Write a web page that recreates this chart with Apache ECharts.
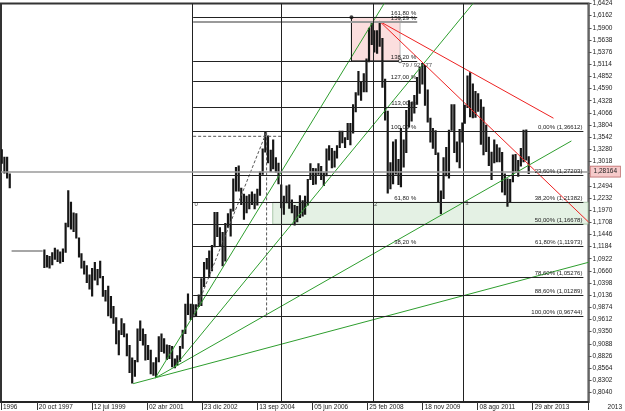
<!DOCTYPE html>
<html><head><meta charset="utf-8">
<script src="https://cdn.jsdelivr.net/npm/echarts@6/dist/echarts.min.js"></script>
<style>html,body{margin:0;padding:0;background:#fff}#c{width:625px;height:411px}</style>
</head><body><div id="c"></div>
<script>
// ---- price data (monthly ranges) ----
const months = [
 '1996-09','1996-10','1996-11','1996-12',
 '1998-01','1998-02','1998-03','1998-04','1998-05','1998-06','1998-07','1998-08','1998-09','1998-10','1998-11','1998-12',
 '1999-01','1999-02','1999-03','1999-04','1999-05','1999-06','1999-07','1999-08','1999-09','1999-10','1999-11','1999-12',
 '2000-01','2000-02','2000-03','2000-04','2000-05','2000-06','2000-07','2000-08','2000-09','2000-10','2000-11','2000-12',
 '2001-01','2001-02','2001-03','2001-04','2001-05','2001-06','2001-07','2001-08','2001-09','2001-10','2001-11','2001-12',
 '2002-01','2002-02','2002-03','2002-04','2002-05','2002-06','2002-07','2002-08','2002-09','2002-10','2002-11','2002-12',
 '2003-01','2003-02','2003-03','2003-04','2003-05','2003-06','2003-07','2003-08','2003-09','2003-10','2003-11','2003-12',
 '2004-01','2004-02','2004-03','2004-04','2004-05','2004-06','2004-07','2004-08','2004-09','2004-10','2004-11','2004-12',
 '2005-01','2005-02','2005-03','2005-04','2005-05','2005-06','2005-07','2005-08','2005-09','2005-10','2005-11','2005-12',
 '2006-01','2006-02','2006-03','2006-04','2006-05','2006-06','2006-07','2006-08','2006-09','2006-10','2006-11','2006-12',
 '2007-01','2007-02','2007-03','2007-04','2007-05','2007-06','2007-07','2007-08','2007-09','2007-10','2007-11','2007-12',
 '2008-01','2008-02','2008-03','2008-04','2008-05','2008-06','2008-07','2008-08','2008-09','2008-10','2008-11','2008-12',
 '2009-01','2009-02','2009-03','2009-04','2009-05','2009-06','2009-07','2009-08','2009-09','2009-10','2009-11','2009-12',
 '2010-01','2010-02','2010-03','2010-04','2010-05','2010-06','2010-07','2010-08','2010-09','2010-10','2010-11','2010-12',
 '2011-01','2011-02','2011-03','2011-04','2011-05','2011-06','2011-07','2011-08','2011-09','2011-10','2011-11','2011-12',
 '2012-01','2012-02','2012-03','2012-04','2012-05','2012-06','2012-07','2012-08','2012-09','2012-10','2012-11','2012-12',
 '2013-01','2013-02','2013-03'
];
const lows = [
 1.297,1.276,1.265,1.244,
 1.072,1.073,1.071,1.078,1.090,1.085,1.082,1.085,1.105,1.160,1.155,1.150,
 1.136,1.095,1.071,1.058,1.040,1.026,1.011,1.045,1.035,1.050,1.010,1.000,
 0.968,0.964,0.952,0.908,0.884,0.928,0.923,0.882,0.846,0.823,0.838,0.869,
 0.915,0.905,0.873,0.874,0.843,0.840,0.837,0.869,0.891,0.888,0.874,0.876,
 0.858,0.856,0.862,0.870,0.898,0.930,0.971,0.960,0.966,0.968,0.988,0.990,
 1.031,1.069,1.051,1.065,1.117,1.139,1.119,1.076,1.086,1.159,1.140,1.194,
 1.237,1.237,1.208,1.176,1.190,1.199,1.208,1.199,1.207,1.228,1.273,1.321,
 1.298,1.279,1.285,1.278,1.253,1.201,1.187,1.212,1.200,1.190,1.164,1.171,
 1.180,1.183,1.187,1.207,1.262,1.251,1.252,1.273,1.262,1.249,1.270,1.304,
 1.287,1.289,1.308,1.331,1.341,1.331,1.348,1.337,1.362,1.408,1.444,1.433,
 1.451,1.451,1.516,1.553,1.537,1.534,1.549,1.461,1.390,1.233,1.242,1.253,
 1.274,1.251,1.246,1.289,1.320,1.375,1.388,1.405,1.424,1.448,1.468,1.422,
 1.386,1.343,1.329,1.316,1.214,1.188,1.221,1.270,1.265,1.368,1.320,1.300,
 1.287,1.343,1.383,1.417,1.397,1.395,1.396,1.409,1.338,1.315,1.322,1.292,
 1.262,1.298,1.300,1.300,1.235,1.229,1.204,1.213,1.257,1.280,1.269,1.291,
 1.300,1.304,1.275
];
const highs = [
 1.328,1.312,1.312,1.276,
 1.112,1.100,1.098,1.106,1.116,1.112,1.108,1.114,1.170,1.240,1.215,1.192,
 1.190,1.138,1.104,1.088,1.078,1.058,1.072,1.085,1.070,1.088,1.055,1.025,
 1.034,1.012,0.990,0.966,0.938,0.964,0.953,0.931,0.906,0.879,0.874,0.942,
 0.959,0.942,0.930,0.906,0.896,0.869,0.880,0.925,0.931,0.921,0.907,0.906,
 0.904,0.877,0.884,0.904,0.939,0.995,1.017,0.995,0.994,0.994,1.015,1.050,
 1.085,1.094,1.110,1.122,1.193,1.193,1.160,1.150,1.169,1.190,1.200,1.265,
 1.290,1.293,1.245,1.232,1.228,1.231,1.237,1.232,1.243,1.280,1.330,1.367,
 1.358,1.327,1.349,1.311,1.299,1.252,1.228,1.250,1.252,1.220,1.208,1.206,
 1.229,1.218,1.228,1.264,1.298,1.288,1.287,1.298,1.292,1.278,1.330,1.337,
 1.331,1.325,1.337,1.368,1.368,1.354,1.385,1.385,1.425,1.451,1.497,1.475,
 1.492,1.524,1.590,1.602,1.585,1.585,1.604,1.568,1.480,1.411,1.300,1.345,
 1.350,1.307,1.374,1.349,1.413,1.434,1.430,1.445,1.484,1.506,1.514,1.510,
 1.457,1.396,1.374,1.369,1.321,1.239,1.311,1.333,1.370,1.425,1.425,1.345,
 1.372,1.386,1.424,1.487,1.494,1.470,1.454,1.449,1.436,1.420,1.381,1.355,
 1.323,1.349,1.339,1.332,1.322,1.276,1.265,1.264,1.317,1.318,1.305,1.331,
 1.370,1.371,1.313
];
const lastPrice = 1.28164;
const gapLine = [['1997-01-05', 1.109], ['1997-12-26', 1.109]];

// ---- axes ----
const xRange = ['1996-09-06', '2015-01-28'];
const xTickDates = ['1996-09-06','1997-10-20','1999-07-12','2001-04-02','2002-12-23','2004-09-13','2006-06-05','2008-02-25','2009-11-18','2011-08-08','2013-04-29','2015-01-28'];
const xTickLabels = ['1996','20 oct 1997','12 jul 1999','02 abr 2001','23 dic 2002','13 sep 2004','05 jun 2006','25 feb 2008','18 nov 2009','08 ago 2011','29 abr 2013','2013'];
const yRange = [0.7833, 1.6424];
const yTicks = [0.8040,0.8302,0.8564,0.8826,0.9088,0.9350,0.9612,0.9874,1.0136,1.0398,1.0660,1.0922,1.1184,1.1446,1.1708,1.1970,1.2232,1.2494,1.2756,1.3018,1.3280,1.3542,1.3804,1.4066,1.4328,1.4590,1.4852,1.5114,1.5376,1.5638,1.5900,1.6162,1.6424];

// ---- Fibonacci retracement ----
const fibRange = ['2002-09-12', '2014-11-30'];
const fibPct = [0, 23.6, 38.2, 50, 61.8, 78.6, 88.6, 100];
const fibVal = [1.36612, 1.27203, 1.21382, 1.16678, 1.11973, 1.05276, 1.01289, 0.96744];
// ---- Fibonacci extension ----
const extRange = ['2002-09-12', '2009-09-17'];
const extPct = [38.2, 61.8, 100, 113, 127, 138.2, 161.8];
const extVal = [1.11973, 1.21382, 1.36612, 1.41795, 1.47376, 1.51842, 1.6125];
const extGray = {pct: 159.29, val: 1.6025};

// ---- drawn objects ----
const greenLines = [
 [['2000-10-26', 0.8228], ['2015-01-28', 1.0845]],
 [['2001-07-06', 0.835], ['2014-07-16', 1.3461]],
 [['2002-02-12', 0.8594], ['2011-06-17', 1.6424]],
 [['2001-07-06', 0.835], ['2008-09-04', 1.6424]]
];
const redLines = [
 [['2008-07-15', 1.6038], ['2013-12-23', 1.3951]],
 [['2008-07-15', 1.6038], ['2015-01-28', 1.1713]]
];
const dashedLines = [
 [['2002-09-12', 0.96744], ['2004-12-30', 1.36612]],
 [['2002-09-12', 1.3561], ['2005-07-01', 1.3561]],
 [['2004-12-30', 1.3645], ['2004-12-30', 0.965]]
];
const timeLines = ['2002-09-04', '2005-06-20', '2008-05-01', '2011-02-20'];
const timeTags = [['2002-10-16', 1.2103, '0'], ['2008-05-29', 1.2103, '2'], ['2011-04-09', 1.2125, '3']];
const greenZone = [['2005-03-10', 1.21382], ['2015-01-22', 1.16678]];
const pinkZone = [['2007-08-27', 1.6125], ['2009-03-05', 1.51842]];
const pinkEdges = [[['2007-08-27', 1.6125], ['2007-08-27', 1.51842]], [['2007-08-27', 1.51842], ['2009-03-05', 1.51842]]];
const noteText = [['2009-03-28', 1.5081, '79 / 923,77']];

// ---- helpers ----
const FONT = 'Liberation Sans, Arial, sans-serif';
const ts = d => new Date(d + 'T00:00:00').getTime();
const P = p => [ts(p[0]), p[1]].concat(p.slice(2));
const comma = (v, n) => v.toFixed(n).replace('.', ',');
const priceData = months.map((m, i) => [ts(m + '-15'), lows[i], highs[i]]);
const xTickTs = xTickDates.map(ts);

const segSeries = (segs, color, type, width, z) => segs.map(s => ({
  type: 'line', data: s.map(P), symbol: 'none', silent: true, z: z || 4, animation: false,
  lineStyle: {color: color, width: width || 1, type: type || 'solid'}
}));

const fibLabel = {show: true, position: 'insideEndTop', distance: 1, fontSize: 6, fontFamily: FONT, color: '#222'};

const lineMarks = fibVal.map((v, i) => [
    {coord: [ts(fibRange[0]), v], lineStyle: {color: '#222', width: 1, type: 'solid'},
     label: Object.assign({}, fibLabel, {formatter: comma(fibPct[i], 2) + '% (' + comma(v, 5) + ')'})},
    {coord: [ts(fibRange[1]), v]}
  ]).concat(extVal.map((v, i) => [
    {coord: [ts(extRange[0]), v], lineStyle: {color: '#222', width: 1, type: 'solid'},
     label: Object.assign({}, fibLabel, {formatter: comma(extPct[i], 2) + ' %'})},
    {coord: [ts(extRange[1]), v]}
  ])).concat([[
    {coord: [ts(extRange[0]), extGray.val], lineStyle: {color: '#9a9a9a', width: 2, type: 'solid'},
     label: Object.assign({}, fibLabel, {formatter: comma(extGray.pct, 2) + ' %'})},
    {coord: [ts(extRange[1]), extGray.val]}
  ]]).concat(timeLines.map(d => ({xAxis: ts(d), lineStyle: {color: '#222', width: 1, type: 'solid'}, label: {show: false}})))
  .concat([{yAxis: lastPrice, lineStyle: {color: '#9a9a9a', width: 1.5, type: 'solid'},
    label: {show: true, position: 'end', distance: 2, formatter: comma(lastPrice, 5), fontSize: 6.5, fontFamily: FONT,
      color: '#222', backgroundColor: '#f6caca', borderColor: '#c07070', borderWidth: 0.8, padding: [2, 3, 1, 3]}}]);

const series = [
  {type: 'line', data: [], z: 1, silent: true, animation: false,
   markArea: {silent: true, data: [
     [{coord: P(greenZone[0]), itemStyle: {color: '#e4f1e4', borderColor: '#99bb99', borderWidth: 0.8}}, {coord: P(greenZone[1])}],
     [{coord: P(pinkZone[0]), itemStyle: {color: '#fbdede', borderColor: '#aaaaaa', borderWidth: 0.8}}, {coord: P(pinkZone[1])}]
   ]}},
  {type: 'line', data: [], z: 2, silent: true, animation: false,
   markLine: {symbol: 'none', silent: true, animation: false, data: lineMarks}},
  {type: 'custom', name: 'EUR/USD', data: priceData, z: 3, clip: true, animation: false, silent: true,
   encode: {x: 0, y: [1, 2]},
   renderItem: function (params, api) {
     const t = api.value(0), lo = api.value(1), hi = api.value(2);
     const pHi = api.coord([t, hi]), pLo = api.coord([t, lo]);
     const w = api.size([25 * 86400000, 0])[0];
     return {type: 'rect', shape: {x: pHi[0] - w / 2, y: pHi[1], width: w, height: Math.max(1, pLo[1] - pHi[1])},
       style: {fill: '#161616'}};
   }},
  {type: 'line', data: gapLine.map(P), symbol: 'none', silent: true, z: 3, animation: false, lineStyle: {color: '#888', width: 1.5}}
]
.concat(segSeries(greenLines, '#2e9e2e', 'solid', 1, 4))
.concat(segSeries(redLines, '#ee2222', 'solid', 1, 4))
.concat(segSeries(dashedLines, '#555', [3, 2], 1, 4))
.concat(segSeries(pinkEdges, '#111', 'solid', 1, 4))
.concat([
  {type: 'scatter', data: [P(pinkZone[0])], symbolSize: 4, itemStyle: {color: '#111'}, silent: true, z: 5, animation: false},
  {type: 'scatter', data: [P(pinkZone[1])], symbolSize: 3.5, itemStyle: {color: '#fff', borderColor: '#111', borderWidth: 0.8}, silent: true, z: 5, animation: false},
  {type: 'scatter', data: timeTags.map(P), symbolSize: 0, silent: true, z: 5, animation: false,
   label: {show: true, position: 'inside', formatter: p => p.value[2], fontSize: 6, fontFamily: FONT, color: '#222'}},
  {type: 'scatter', data: noteText.map(P), symbolSize: 0, silent: true, z: 5, animation: false,
   label: {show: true, position: 'right', distance: 0, formatter: p => p.value[2], fontSize: 6, fontFamily: FONT, color: '#222'}}
]);

const chart = echarts.init(document.getElementById('c'), null, {renderer: 'canvas'});
chart.setOption({
  animation: false,
  backgroundColor: '#fff',
  grid: {left: 1, right: 32, top: 0, bottom: 8, show: true, borderColor: '#333', borderWidth: 2, backgroundColor: 'transparent'},
  xAxis: {
    type: 'value', min: ts(xRange[0]), max: ts(xRange[1]),
    splitLine: {show: false},
    axisLine: {show: true, lineStyle: {color: '#222', width: 1.5}},
    axisTick: {show: true, length: 8, lineStyle: {color: '#333', width: 1}, customValues: xTickTs},
    axisLabel: {
      customValues: xTickTs, align: 'left', margin: 2, padding: [0, 0, 0, 2],
      fontSize: 6.5, fontFamily: FONT, color: '#222', hideOverlap: false, showMinLabel: true, showMaxLabel: true,
      formatter: function (v) {
        const i = xTickTs.findIndex(t => Math.abs(t - v) < 86400000);
        if (i < 0) return '';
        return i === xTickTs.length - 1 ? '{end|' + xTickLabels[i] + '}' : xTickLabels[i];
      },
      rich: {end: {padding: [0, 0, 0, 17], fontSize: 6.5, fontFamily: FONT, color: '#222'}}
    }
  },
  yAxis: {
    type: 'value', position: 'right', min: yRange[0], max: yRange[1],
    splitLine: {show: false},
    axisLine: {show: true, lineStyle: {color: '#777', width: 1.5}},
    axisTick: {show: true, length: 3, lineStyle: {color: '#555'}, customValues: yTicks},
    axisLabel: {customValues: yTicks, margin: 4, fontSize: 6.5, fontFamily: FONT, color: '#222',
      showMinLabel: true, showMaxLabel: true, hideOverlap: false,
      formatter: v => comma(v, 4)}
  },
  series: series
});
</script>
</body></html>
